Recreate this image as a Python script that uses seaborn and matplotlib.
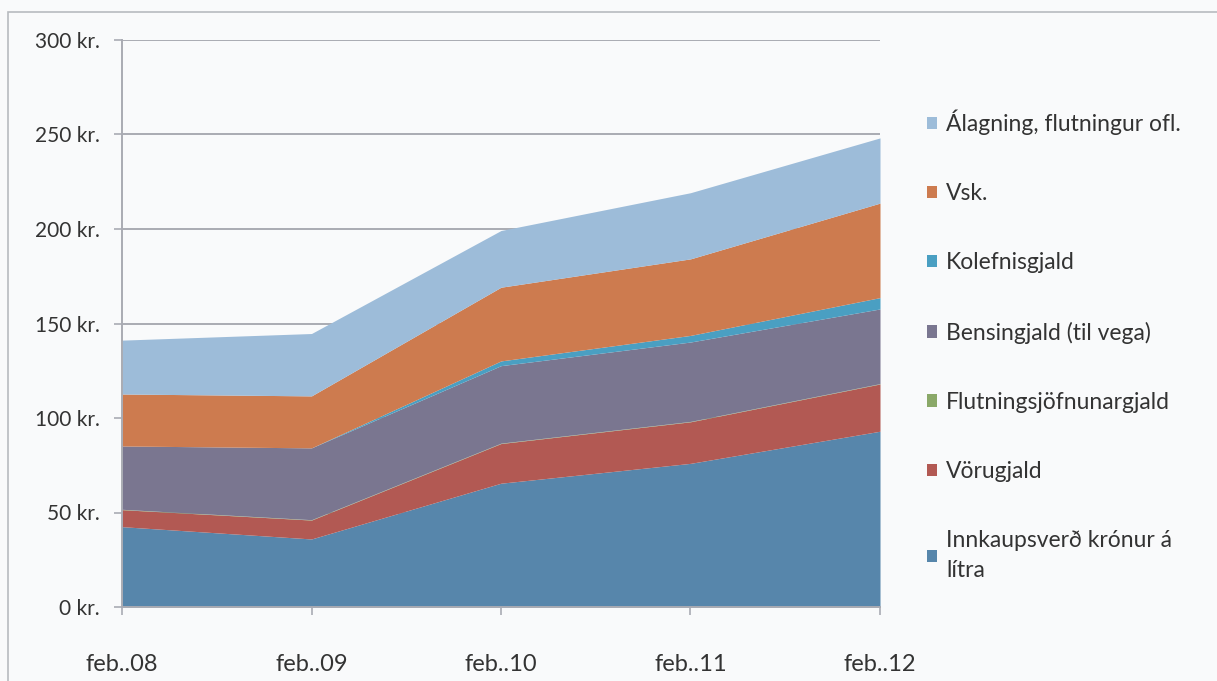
import numpy as np
import pandas as pd
import seaborn as sns
import matplotlib.pyplot as plt
from matplotlib.ticker import FuncFormatter
from matplotlib.patches import Rectangle, Patch

# Data (kr. per litre, stacked)
months = ['feb..08', 'feb..09', 'feb..10', 'feb..11', 'feb..12']
innkaup = [42.5, 36, 65.5, 76, 93]
vorugjald = [9, 10, 21, 22, 25]
flutnings = [0.2, 0.2, 0.2, 0.2, 0.2]
bensingjald = [33.5, 38, 41, 42, 39.5]
kolefnis = [0, 0, 2.5, 3.5, 6]
vsk = [27.5, 27.5, 39, 40.5, 50]
alagning = [28.5, 33, 30, 35, 34.5]

series_names = ['Innkaupsverð krónur á\nlítra', 'Vörugjald', 'Flutningsjöfnunargjald',
                'Bensingjald (til vega)', 'Kolefnisgjald', 'Vsk.',
                'Álagning, flutningur ofl.']
colors = ['#5786ab', '#b25953', '#8aa868', '#7a7690', '#4a9fc2', '#cd7b4f', '#9dbcd9']

df = pd.DataFrame({'month': months, 'Innkaup': innkaup, 'Vorugjald': vorugjald,
                   'Flutnings': flutnings, 'Bensingjald': bensingjald,
                   'Kolefnis': kolefnis, 'Vsk': vsk, 'Alagning': alagning})

sns.set_theme(style='white')
plt.rcParams['font.family'] = ['Lato', 'DejaVu Sans']
bg = '#f9fafb'
txt = '#333333'

fig = plt.figure(figsize=(12.17, 6.81), dpi=100, facecolor=bg)
ax = fig.add_axes([122 / 1217, 1 - 607 / 681, (880 - 122) / 1217, (607 - 40) / 681])
ax.set_facecolor(bg)

x = np.arange(len(months))
ax.stackplot(x, df[['Innkaup', 'Vorugjald', 'Flutnings', 'Bensingjald',
                    'Kolefnis', 'Vsk', 'Alagning']].T.values,
             colors=colors, linewidth=0, zorder=2)

ax.set_xlim(0, len(months) - 1)
ax.set_ylim(0, 300)
ax.set_yticks(range(0, 301, 50))
ax.yaxis.set_major_formatter(FuncFormatter(lambda v, p: f'{int(v)} kr.'))
ax.set_xticks(x)
ax.set_xticklabels(months)
ax.grid(axis='y', color='#a9abb3', linewidth=1.4, zorder=1)
ax.grid(axis='x', visible=False)

for s in ['top', 'right']:
    ax.spines[s].set_visible(False)
for s in ['left', 'bottom']:
    ax.spines[s].set_color('#a9abb3')
    ax.spines[s].set_linewidth(1.4)
ax.tick_params(axis='both', which='both', length=6, color='#a9abb3', width=1.2,
               labelcolor=txt, direction='out')
ax.tick_params(axis='y', pad=10, labelsize=15)
ax.tick_params(axis='x', pad=28, labelsize=17)
ax.tick_params(left=True, bottom=True)

# legend in reverse stack order
handles = [Patch(facecolor=c, edgecolor='none') for c in colors][::-1]
leg = fig.legend(handles, series_names[::-1], loc='upper left',
                 bbox_to_anchor=(906 / 1217, 1 - 89 / 681), frameon=False,
                 fontsize=16.5, labelcolor=txt, labelspacing=2.1,
                 handlelength=0.45, handleheight=0.45, handletextpad=0.4)
for t in leg.get_texts():
    t.set_linespacing(1.55)

# outer frame of the chart object
fig.patches.append(Rectangle((8 / 1217, -0.05), 1.2, 1 - 12 / 681 + 0.05,
                             transform=fig.transFigure, fill=False,
                             edgecolor='#b8bbc0', linewidth=1.2))

fig.savefig('out.png', dpi=100, facecolor=bg)
